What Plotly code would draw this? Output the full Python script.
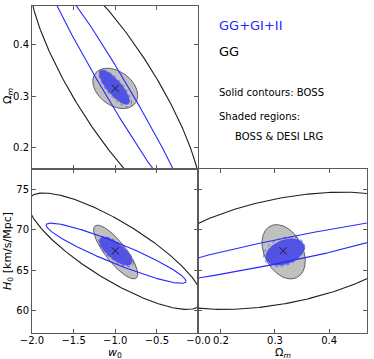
import numpy as np
import plotly.graph_objects as go

# ---------------- data ----------------
# panels: 0 = (w0, Om) top-left, 1 = (w0, H0) bottom-left, 2 = (Om, H0) bottom-right
fid_w0 = -1.0
fid_Om = 0.315
fid_H0 = 67.4

# BOSS, GG (black solid contour): centre x, centre y, sigma x, sigma y, correlation
boss_gg_cx = [-1.0, -1.0, 0.315]
boss_gg_cy = [0.315, 67.35, 67.4]
boss_gg_sx = [1.03, 1.05, 0.26]
boss_gg_sy = [0.245, 7.25, 7.3]
boss_gg_rho = [-0.835, -0.82, 0.42]

# BOSS, GG+GI+II (blue solid contour)
boss_all_cx = [-0.996, -0.99, 0.315]
boss_all_cy = [0.315, 67.1, 67.45]
boss_all_sx = [0.886, 0.84, 0.30]
boss_all_sy = [0.238, 3.75, 4.4]
boss_all_rho = [-0.983, -0.93, 0.94]

# BOSS & DESI LRG, GG (grey shaded)
desi_gg_cx = [-1.0, -0.995, 0.316]
desi_gg_cy = [0.315, 67.25, 67.28]
desi_gg_sx = [0.27, 0.265, 0.040]
desi_gg_sy = [0.039, 3.35, 3.38]
desi_gg_rho = [-0.35, -0.82, -0.33]

# BOSS & DESI LRG, GG+GI+II (blue shaded)
desi_all_cx = [-1.01, -0.995, 0.3185]
desi_all_cy = [0.317, 67.35, 67.25]
desi_all_sx = [0.18, 0.195, 0.0355]
desi_all_sy = [0.033, 1.75, 1.65]
desi_all_rho = [-0.80, -0.72, 0.35]

# dotted blue contour
dot_cx = [-1.0, -0.99, 0.317]
dot_cy = [0.315, 67.3, 67.3]
dot_sx = [0.195, 0.21, 0.038]
dot_sy = [0.036, 1.9, 1.85]
dot_rho = [-0.78, -0.72, 0.30]

w0_ticks = [-2.0, -1.5, -1.0, -0.5, 0.0]
w0_ticktext = ["\u22122.0", "\u22121.5", "\u22121.0", "\u22120.5", "\u22120.0"]
Om_ticks = [0.2, 0.3, 0.4]
Om_ticktext = ["0.2", "0.3", "0.4"]
H0_ticks = [60, 65, 70, 75]
H0_ticktext = ["60", "65", "70", "75"]

# ---------------- drawing ----------------
def ellipse(cx, cy, sx, sy, rho, n=721):
    t = np.linspace(0, 2 * np.pi, n)
    x = cx + sx * np.cos(t)
    y = cy + sy * (rho * np.cos(t) + np.sqrt(1 - rho ** 2) * np.sin(t))
    return x, y

axes = [("x", "y"), ("x2", "y2"), ("x3", "y3")]
fid_x = [fid_w0, fid_w0, fid_Om]
fid_y = [fid_Om, fid_H0, fid_H0]

fig = go.Figure()
for i, (xa, ya) in enumerate(axes):
    # grey shaded
    x, y = ellipse(desi_gg_cx[i], desi_gg_cy[i], desi_gg_sx[i], desi_gg_sy[i], desi_gg_rho[i])
    fig.add_trace(go.Scatter(x=x, y=y, xaxis=xa, yaxis=ya, mode="lines", fill="toself",
                             fillcolor="rgb(192,192,192)", line=dict(color="rgb(95,95,95)", width=1),
                             showlegend=False, hoverinfo="skip"))
    # blue shaded
    x, y = ellipse(desi_all_cx[i], desi_all_cy[i], desi_all_sx[i], desi_all_sy[i], desi_all_rho[i])
    fig.add_trace(go.Scatter(x=x, y=y, xaxis=xa, yaxis=ya, mode="lines", fill="toself",
                             fillcolor="rgb(82,82,228)", line=dict(color="rgb(70,70,210)", width=0.6),
                             showlegend=False, hoverinfo="skip"))
    # dotted blue
    x, y = ellipse(dot_cx[i], dot_cy[i], dot_sx[i], dot_sy[i], dot_rho[i])
    fig.add_trace(go.Scatter(x=x, y=y, xaxis=xa, yaxis=ya, mode="lines",
                             line=dict(color="rgb(80,80,235)", width=0.8, dash="dot"),
                             showlegend=False, hoverinfo="skip"))
    # black solid
    x, y = ellipse(boss_gg_cx[i], boss_gg_cy[i], boss_gg_sx[i], boss_gg_sy[i], boss_gg_rho[i])
    fig.add_trace(go.Scatter(x=x, y=y, xaxis=xa, yaxis=ya, mode="lines",
                             line=dict(color="rgb(30,30,30)", width=1.1),
                             showlegend=False, hoverinfo="skip"))
    # blue solid
    x, y = ellipse(boss_all_cx[i], boss_all_cy[i], boss_all_sx[i], boss_all_sy[i], boss_all_rho[i])
    fig.add_trace(go.Scatter(x=x, y=y, xaxis=xa, yaxis=ya, mode="lines",
                             line=dict(color="rgb(40,40,255)", width=1.1),
                             showlegend=False, hoverinfo="skip"))
    # fiducial marker
    fig.add_trace(go.Scatter(x=[fid_x[i]], y=[fid_y[i]], xaxis=xa, yaxis=ya, mode="markers",
                             marker=dict(symbol="x-thin", size=7, line=dict(color="rgb(20,20,20)", width=0.9)),
                             showlegend=False, hoverinfo="skip"))

FONT = "DejaVu Sans"
common = dict(showline=True, linecolor="rgb(90,90,90)", linewidth=1, mirror="allticks",
              ticks="inside", ticklen=4, tickwidth=1, tickcolor="rgb(90,90,90)",
              showgrid=False, zeroline=False, automargin=False,
              tickfont=dict(family=FONT, size=10, color="black"))

xl = [0, 0.497]
xr = [0.497, 1]
yb = [0, 0.5025]
yt = [0.5025, 1]

fig.update_layout(
    width=374, height=359,
    margin=dict(l=32, r=7, t=6, b=26),
    paper_bgcolor="white", plot_bgcolor="white",
    xaxis=dict(domain=xl, anchor="y", range=[-2.0, 0.0], tickvals=w0_ticks,
               showticklabels=False, **common),
    yaxis=dict(domain=yt, anchor="x", range=[0.160, 0.474], tickvals=Om_ticks,
               ticktext=Om_ticktext, **common),
    xaxis2=dict(domain=xl, anchor="y2", range=[-2.0, 0.0], tickvals=w0_ticks,
                ticktext=w0_ticktext, ticklabelstandoff=-2, **common),
    yaxis2=dict(domain=yb, anchor="x2", range=[57.17, 77.62], tickvals=H0_ticks,
                ticktext=H0_ticktext, **common),
    xaxis3=dict(domain=xr, anchor="y3", range=[0.1587, 0.470], tickvals=Om_ticks,
                ticktext=Om_ticktext, ticklabelstandoff=-2, **common),
    yaxis3=dict(domain=yb, anchor="x3", range=[57.17, 77.62], tickvals=H0_ticks,
                showticklabels=False, **common),
)

ann = []
def add_text(text, x, y, size, color="black", angle=0, xanchor="center"):
    ann.append(dict(text=text, x=x, y=y, xref="paper", yref="paper", showarrow=False,
                    textangle=angle, xanchor=xanchor, yanchor="middle",
                    font=dict(family=FONT, size=size, color=color)))

add_text("\u03a9<sub><i>m</i></sub>", -0.0716, 0.725, 11, angle=-90)
add_text("<i>H</i><sub>0</sub> [km/s/Mpc]", -0.0716, 0.251, 11, angle=-90)
add_text("<i>w</i><sub>0</sub>", 0.248, -0.062, 11)
add_text("\u03a9<sub><i>m</i></sub>", 0.749, -0.062, 11)
add_text("GG+GI+II", 0.552, 0.939, 13, color="rgb(40,40,255)", xanchor="left")
add_text("GG", 0.552, 0.862, 13, xanchor="left")
add_text("Solid contours: BOSS", 0.552, 0.737, 10, xanchor="left")
add_text("Shaded regions:", 0.552, 0.661, 10, xanchor="left")
add_text("BOSS &amp; DESI LRG", 0.6, 0.602, 10, xanchor="left")
fig.update_layout(annotations=ann)

fig.write_html("out.html", config={"displayModeBar": False},
               post_script="document.body.style.margin='0px';")
